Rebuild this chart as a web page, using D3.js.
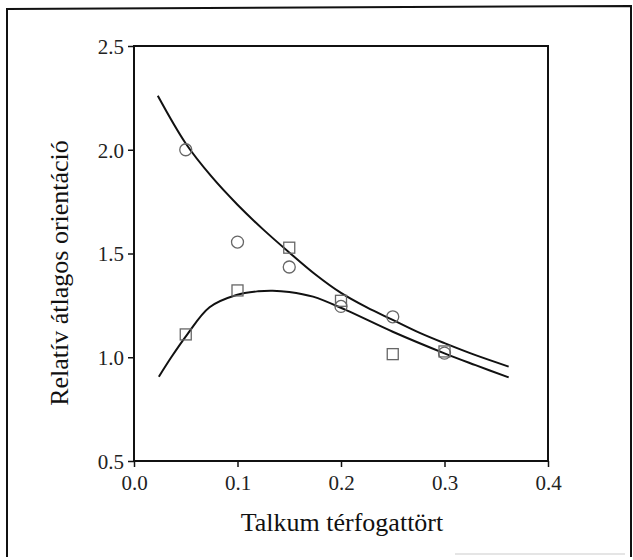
<!DOCTYPE html>
<html>
<head>
<meta charset="utf-8">
<script src="https://cdn.jsdelivr.net/npm/d3@7"></script>
<style>
  body { margin: 0; background: #fff; }
  svg { display: block; }
</style>
</head>
<body>
<svg id="chart" width="633" height="560"></svg>
<script>
// Measured points (talc volume fraction -> relative mean orientation)
const circleX = [0.05, 0.10, 0.15, 0.20, 0.25, 0.30];
const circleY = [2.00, 1.555, 1.435, 1.245, 1.195, 1.02];
const squareX = [0.05, 0.10, 0.15, 0.20, 0.25, 0.30];
const squareY = [1.11, 1.322, 1.528, 1.272, 1.015, 1.028];

// Fitted curves
const upperX = [0.023, 0.050, 0.075, 0.100, 0.125, 0.150, 0.175, 0.200, 0.225, 0.250, 0.275, 0.300, 0.330, 0.362];
const upperY = [2.260, 2.030, 1.870, 1.735, 1.615, 1.505, 1.400, 1.310, 1.240, 1.180, 1.120, 1.068, 1.010, 0.955];
const lowerX = [0.024, 0.036, 0.051, 0.073, 0.099, 0.120, 0.134, 0.150, 0.173, 0.205, 0.250, 0.300, 0.330, 0.362];
const lowerY = [0.906, 1.000, 1.107, 1.241, 1.300, 1.318, 1.321, 1.315, 1.292, 1.227, 1.123, 1.019, 0.962, 0.903];

const xTicks = [0.0, 0.1, 0.2, 0.3, 0.4];
const yTicks = [0.5, 1.0, 1.5, 2.0, 2.5];

const svg = d3.select('#chart');
const font = '"Liberation Serif", "Times New Roman", "DejaVu Serif", serif';

// Outer frame
svg.append('path')
  .attr('d', 'M7,557 L7,9 L631,6 L631,557')
  .attr('fill', 'none')
  .attr('stroke', '#111')
  .attr('stroke-width', 2);
svg.append('line')
  .attr('x1', 455).attr('x2', 625).attr('y1', 554).attr('y2', 554)
  .attr('stroke', '#ddd').attr('stroke-width', 1.5);

const plotLeft = 134, plotRight = 548, plotTop = 46, plotBottom = 461;

const x = d3.scaleLinear().domain([0, 0.4]).range([plotLeft, plotRight]);
const y = d3.scaleLinear().domain([0.5, 2.5]).range([plotBottom, plotTop]);

// Plot box
svg.append('rect')
  .attr('x', plotLeft).attr('y', plotTop)
  .attr('width', plotRight - plotLeft).attr('height', plotBottom - plotTop)
  .attr('fill', 'none')
  .attr('stroke', '#111')
  .attr('stroke-width', 2);

// Axes
const xAxis = svg.append('g')
  .attr('transform', `translate(0,${plotBottom})`)
  .call(d3.axisBottom(x).tickValues(xTicks).tickFormat(d3.format('.1f')).tickSize(6).tickPadding(8));
const yAxis = svg.append('g')
  .attr('transform', `translate(${plotLeft},0)`)
  .call(d3.axisLeft(y).tickValues(yTicks).tickFormat(d3.format('.1f')).tickSize(6).tickPadding(4));

[xAxis, yAxis].forEach(g => {
  g.attr('font-family', null).attr('font-size', null);
  g.select('.domain').remove();
  g.selectAll('line').attr('stroke', '#111').attr('stroke-width', 1.5);
  g.selectAll('text')
    .attr('fill', '#222')
    .style('font-family', font)
    .style('font-size', '21px');
});
yAxis.selectAll('text').attr('dy', '0.35em');

// Curves
const line = d3.line().x(d => x(d[0])).y(d => y(d[1])).curve(d3.curveCatmullRom);
svg.append('path')
  .datum(d3.zip(upperX, upperY))
  .attr('d', line)
  .attr('fill', 'none').attr('stroke', '#111').attr('stroke-width', 2);
svg.append('path')
  .datum(d3.zip(lowerX, lowerY))
  .attr('d', line)
  .attr('fill', 'none').attr('stroke', '#111').attr('stroke-width', 2);

// Markers
svg.append('g').selectAll('circle')
  .data(d3.zip(circleX, circleY))
  .join('circle')
  .attr('cx', d => x(d[0])).attr('cy', d => y(d[1]))
  .attr('r', 6)
  .attr('fill', 'none').attr('stroke', '#666').attr('stroke-width', 1.3);
svg.append('g').selectAll('rect')
  .data(d3.zip(squareX, squareY))
  .join('rect')
  .attr('x', d => x(d[0]) - 5.5).attr('y', d => y(d[1]) - 5.5)
  .attr('width', 11).attr('height', 11)
  .attr('fill', 'none').attr('stroke', '#666').attr('stroke-width', 1.3);

// Axis titles
svg.append('text')
  .attr('x', 342).attr('y', 531)
  .attr('text-anchor', 'middle')
  .style('font-family', font)
  .style('font-size', '26px')
  .attr('fill', '#111')
  .text('Talkum térfogattört');
svg.append('text')
  .attr('transform', 'translate(68,273) rotate(-90)')
  .attr('text-anchor', 'middle')
  .style('font-family', font)
  .style('font-size', '26px')
  .attr('fill', '#111')
  .text('Relatív átlagos orientáció');
</script>
</body>
</html>
